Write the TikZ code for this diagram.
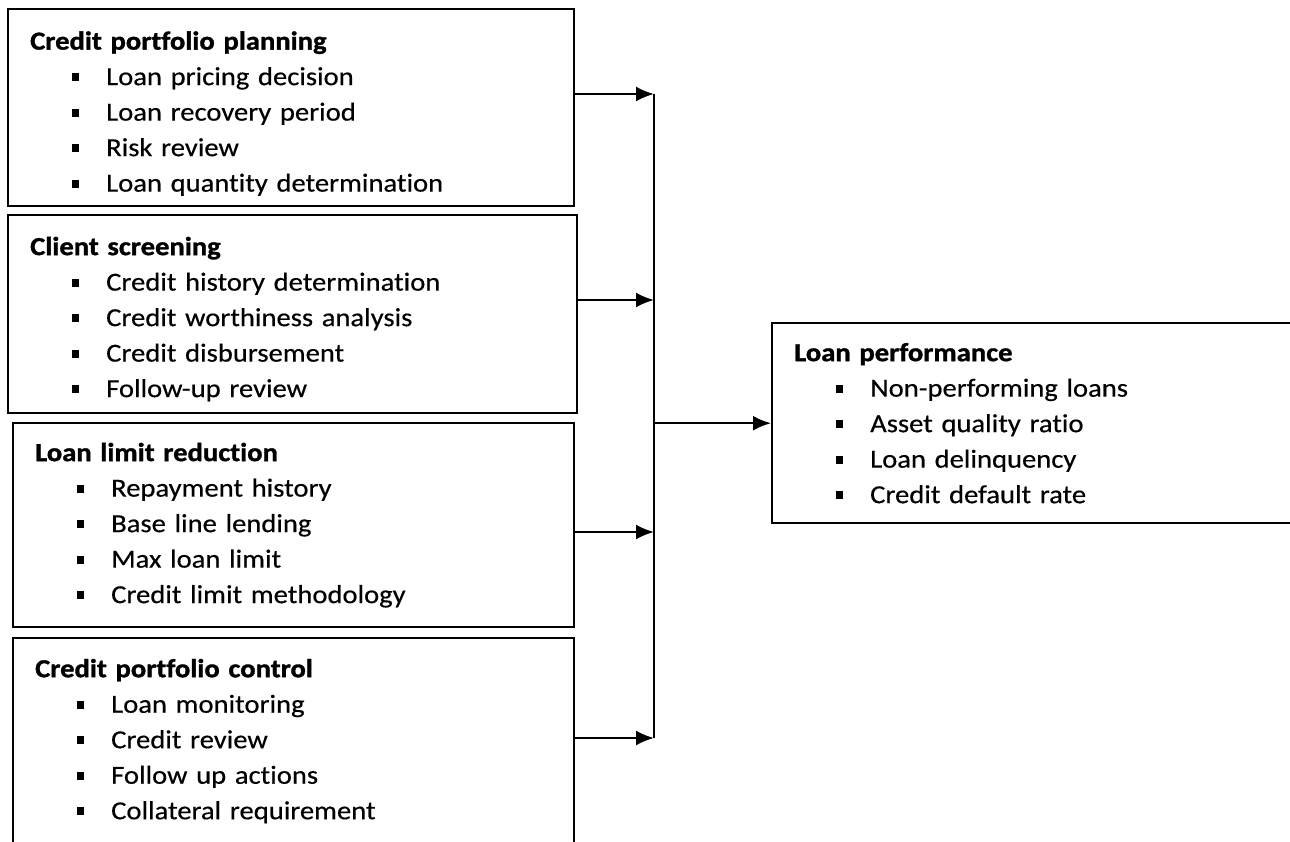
\documentclass[tikz,border=0pt]{standalone}
\usepackage{fontspec}
\setmainfont[FakeStretch=1.1, Ligatures=NoCommon, UprightFeatures={FakeBold=0.4}, BoldFeatures={FakeBold=1.2}]{Carlito}
\usetikzlibrary{arrows.meta}
\tikzstyle{panel} = [rectangle, draw, line width=2.4pt, anchor=north west, align=left, inner xsep=22pt, inner ysep=0pt, font=\fontsize{26pt}{35.5pt}\selectfont]
\tikzstyle{line} = [draw, line width=2.2pt, -{Latex[length=18pt,width=15pt]}]
\newcommand{\itm}[1]{\hspace*{42pt}\rule[4pt]{7pt}{8pt}\hspace*{27pt}#1}

\begin{document}
\begin{tikzpicture}[x=1pt, y=-1pt]
    \useasboundingbox (0,0) rectangle (1290,841);
    \clip (0,0) rectangle (1290,841);
    % Place nodes
    \node [panel, text width=522pt, minimum height=197pt] (planning) at (7,8) {\textbf{Credit portfolio planning}\rule{0pt}{30pt}\\ \itm{Loan pricing decision}\\ \itm{Loan recovery period}\\ \itm{Risk review}\\ \itm{Loan quantity determination}};
    \node [panel, text width=525pt, minimum height=198pt] (screening) at (7,214) {\textbf{Client screening}\rule{0pt}{28pt}\\ \itm{Credit history determination}\\ \itm{Credit worthiness analysis}\\ \itm{Credit disbursement}\\ \itm{Follow-up review}};
    \node [panel, text width=517pt, minimum height=204pt] (limit) at (12,422) {\textbf{Loan limit reduction}\\ \itm{Repayment history}\\ \itm{Base line lending}\\ \itm{Max loan limit}\\ \itm{Credit limit methodology}};
    \node [panel, text width=517pt, minimum height=206pt] (control) at (12,637) {\textbf{Credit portfolio control}\\ \itm{Loan monitoring}\\ \itm{Credit review}\\ \itm{Follow up actions}\\ \itm{Collateral requirement}};
    \node [panel, text width=516pt, minimum height=200pt] (perf) at (771,322) {\textbf{Loan performance}\\ \itm{Non-performing loans}\\ \itm{Asset quality ratio}\\ \itm{Loan delinquency}\\ \itm{Credit default rate}};
    % Draw edges
    \coordinate (j1) at (654,94);
    \coordinate (j2) at (654,300);
    \coordinate (j3) at (654,532);
    \coordinate (j4) at (654,738);
    \path [line] (planning.east |- j1) -- (j1);
    \path [line] (screening.east |- j2) -- (j2);
    \path [line] (limit.east |- j3) -- (j3);
    \path [line] (control.east |- j4) -- (j4);
    \draw [line width=1.6pt] (j1) -- (j4);
    \path [line] (j1 |- perf.west) -- (perf.west);
\end{tikzpicture}
\end{document}
